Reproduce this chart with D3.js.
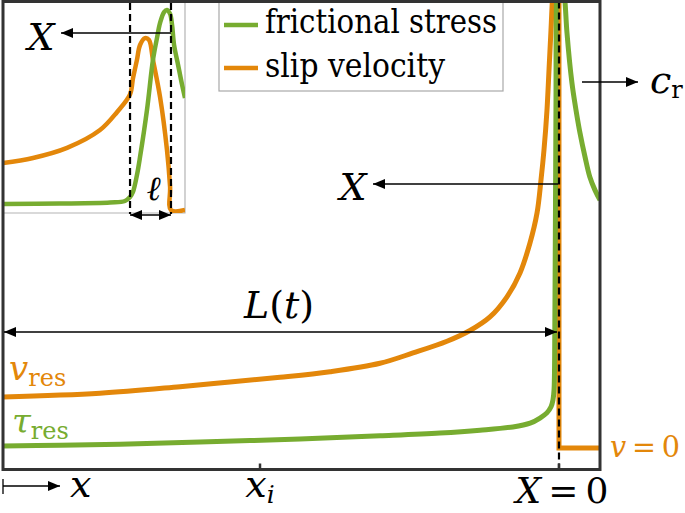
<!DOCTYPE html>
<html><head><meta charset="utf-8">
<script src="https://cdn.jsdelivr.net/npm/d3@7"></script>
<style>
body{margin:0;background:#fff}
svg{display:block}
svg text{font-family:"DejaVu Serif","Liberation Serif",serif !important}
</style>
</head><body>
<svg id="c" width="685" height="513"></svg>
<script>
// ================= DATA =================
const seriesNames  = ["frictional stress", "slip velocity"];
const seriesColors = ["#77AC30", "#E3870A"];

// Main panel: position normalised (0 = left edge, 1 = right edge), values normalised
const stressPos = [0,0.0955,0.196,0.33,0.4975,0.6315,0.732,0.799,0.854,0.883,0.8995,0.911,0.918,0.9213,0.923,0.924,0.9246,0.9255,0.9263,0.9271,0.9296,0.9363,0.9414,0.9447,0.953,0.9598,0.9665,0.9749,0.983,0.9916,1];
const stressVal = [0.050,0.052,0.054,0.059,0.065,0.072,0.078,0.084,0.091,0.099,0.110,0.121,0.134,0.149,0.170,0.234,0.362,0.576,0.79,0.999,1.067,1.067,0.999,0.933,0.826,0.768,0.719,0.668,0.625,0.597,0.576];

const velPos = [0,0.1625,0.2965,0.3802,0.464,0.5477,0.6315,0.6868,0.7437,0.7822,0.8157,0.8442,0.866,0.8827,0.8945,0.9012,0.9062,0.9112,0.9146,0.9179,0.9213,0.9263,0.9313,0.9313,1];
const velVal = [0.155,0.163,0.177,0.187,0.197,0.209,0.227,0.249,0.274,0.297,0.326,0.369,0.420,0.484,0.548,0.619,0.683,0.768,0.854,0.939,1.025,1.089,1.089,0.046,0.046];

// Inset (zoom on the tip region)
const insetStressPos = [0,0.313,0.588,0.670,0.698,0.714,0.736,0.753,0.791,0.824,0.846,0.863,0.885,0.901,0.918,0.929,0.940,0.962,0.984,1];
const insetStressVal = [0.043,0.045,0.05,0.057,0.076,0.1,0.181,0.267,0.490,0.729,0.833,0.905,0.957,0.967,0.948,0.895,0.8,0.705,0.610,0.548];
const insetVelPos = [0,0.165,0.352,0.533,0.626,0.698,0.714,0.736,0.753,0.780,0.802,0.824,0.863,0.901,0.918,0.923,1];
const insetVelVal = [0.238,0.262,0.310,0.395,0.480,0.565,0.640,0.729,0.8,0.833,0.824,0.729,0.552,0.3,0.124,0.014,0.014];
const insetMarks = [0.698, 0.923];      // process-zone limits (ℓ)

const frontPos = 0.9313;                // X = 0
const tickPos = [0.4305, 0.9313];

// ================= DRAW =================
const FONT = "'DejaVu Serif','Liberation Serif',serif";
const svg = d3.select("#c");
const frame = {x0:3, x1:600, y0:1.5, y1:469.5};
const x = d3.scaleLinear([0,1],[frame.x0, frame.x1]);
const y = d3.scaleLinear([0,1],[frame.y1, frame.y0]);
const inset = {x0:3, x1:185, y0:3, y1:213};
const xi = d3.scaleLinear([0,1],[inset.x0, inset.x1]);
const yi = d3.scaleLinear([0,1],[inset.y1, inset.y0]);

const defs = svg.append("defs");
defs.append("marker").attr("id","ah").attr("viewBox","0 0 12 10")
  .attr("markerUnits","userSpaceOnUse").attr("markerWidth",12).attr("markerHeight",10)
  .attr("refX",12).attr("refY",5).attr("orient","auto-start-reverse")
  .append("path").attr("d","M0,0L12,5L0,10Z").attr("fill","#000");
defs.append("clipPath").attr("id","clipMain").append("rect")
  .attr("x",frame.x0).attr("y",frame.y0).attr("width",frame.x1-frame.x0).attr("height",frame.y1-frame.y0);
defs.append("clipPath").attr("id","clipInset").append("rect")
  .attr("x",inset.x0).attr("y",inset.y0-2).attr("width",inset.x1-inset.x0).attr("height",inset.y1-inset.y0+2);

const smooth = d3.curveCatmullRom.alpha(0.5);
const zip = (a,b)=>a.map((v,i)=>[v,b[i]]);
function splitSeries(pos, val){
  const pts = zip(pos,val);
  let k = pts.findIndex((p,i)=>i>0 && p[0]===pts[i-1][0]);
  if (k<0) return [pts, []];
  return [pts.slice(0,k), pts.slice(k-1)];
}
function drawSeries(g, pos, val, xs, ys, color, w){
  const [a,b] = splitSeries(pos,val);
  const ls = d3.line().x(d=>xs(d[0])).y(d=>ys(d[1])).curve(smooth);
  const ll = d3.line().x(d=>xs(d[0])).y(d=>ys(d[1]));
  g.append("path").attr("d",ls(a)).attr("fill","none").attr("stroke",color).attr("stroke-width",w).attr("stroke-linejoin","round");
  if (b.length) g.append("path").attr("d",ll(b)).attr("fill","none").attr("stroke",color).attr("stroke-width",w).attr("stroke-linejoin","miter");
}
function txt(g){ return g.append("text").style("font-family",FONT); }

const gMain = svg.append("g").attr("clip-path","url(#clipMain)");
drawSeries(gMain, velPos, velVal, x, y, seriesColors[1], 5);
drawSeries(gMain, stressPos, stressVal, x, y, seriesColors[0], 5);

svg.append("line").attr("x1",x(frontPos)).attr("x2",x(frontPos)).attr("y1",frame.y0).attr("y2",frame.y1)
  .attr("stroke","#000").attr("stroke-width",2.2).attr("stroke-dasharray","7,4");

// inset
const gIn = svg.append("g");
gIn.append("path").attr("d",`M${inset.x1},${inset.y0-2}V${inset.y1}H${inset.x0}`)
  .attr("fill","none").attr("stroke","#b4b4b4").attr("stroke-width",1.2);
const gInC = gIn.append("g").attr("clip-path","url(#clipInset)");
drawSeries(gInC, insetVelPos, insetVelVal, xi, yi, seriesColors[1], 4.5);
drawSeries(gInC, insetStressPos, insetStressVal, xi, yi, seriesColors[0], 4.5);
insetMarks.forEach(m=>{
  gIn.append("line").attr("x1",xi(m)).attr("x2",xi(m)).attr("y1",inset.y0).attr("y2",inset.y1+1)
    .attr("stroke","#000").attr("stroke-width",2.2).attr("stroke-dasharray","7,4");
});
gIn.append("line").attr("x1",xi(insetMarks[0])).attr("x2",xi(insetMarks[1])).attr("y1",215).attr("y2",215)
  .attr("stroke","#000").attr("stroke-width",1.3).attr("marker-start","url(#ah)").attr("marker-end","url(#ah)");
txt(gIn).attr("x",(xi(insetMarks[0])+xi(insetMarks[1]))/2+3).attr("y",200)
  .attr("text-anchor","middle").attr("font-size",34).attr("font-style","italic").text("ℓ");
gIn.append("line").attr("x1",xi(insetMarks[1])).attr("x2",61).attr("y1",33).attr("y2",33)
  .attr("stroke","#000").attr("stroke-width",1.3).attr("marker-end","url(#ah)");
txt(gIn).attr("x",41).attr("y",50).attr("text-anchor","middle")
  .attr("font-size",38).attr("font-style","italic").text("X");

// legend
const lg = svg.append("g");
lg.append("rect").attr("x",219).attr("y",-2).attr("width",284).attr("height",93)
  .attr("fill","#fff").attr("stroke","#a8a8a8").attr("stroke-width",1.2);
seriesNames.forEach((n,i)=>{
  const yy = [25,68][i];
  lg.append("line").attr("x1",224).attr("x2",258).attr("y1",yy).attr("y2",yy)
    .attr("stroke",seriesColors[i]).attr("stroke-width",4.5);
  txt(lg).attr("x",265).attr("y",[33,77][i]).attr("font-size",33)
    .attr("textLength",[232,180][i]).attr("lengthAdjust","spacingAndGlyphs").text(n);
});

svg.append("rect").attr("x",frame.x0).attr("y",frame.y0).attr("width",frame.x1-frame.x0).attr("height",frame.y1-frame.y0)
  .attr("fill","none").attr("stroke","#333").attr("stroke-width",3);

tickPos.forEach(t=>{
  svg.append("line").attr("x1",x(t)).attr("x2",x(t)).attr("y1",frame.y1-6).attr("y2",frame.y1)
    .attr("stroke","#333").attr("stroke-width",2.5);
});
const tl0 = txt(svg).attr("x",x(tickPos[0])).attr("y",497).attr("text-anchor","middle").attr("font-size",38);
tl0.append("tspan").attr("font-style","italic").text("x");
tl0.append("tspan").attr("font-style","italic").attr("font-size",25).attr("dy",6).text("i");
const tl1 = txt(svg).attr("x",x(tickPos[1])+3).attr("y",503).attr("text-anchor","middle").attr("font-size",36);
tl1.append("tspan").attr("font-style","italic").text("X");
tl1.append("tspan").text("\u2009=\u20090");

svg.append("line").attr("x1",x(frontPos)-1).attr("x2",373).attr("y1",184).attr("y2",184)
  .attr("stroke","#000").attr("stroke-width",1.3).attr("marker-end","url(#ah)");
txt(svg).attr("x",353).attr("y",200).attr("text-anchor","middle")
  .attr("font-size",38).attr("font-style","italic").text("X");

svg.append("line").attr("x1",frame.x0+1).attr("x2",x(frontPos)-2).attr("y1",332).attr("y2",332)
  .attr("stroke","#000").attr("stroke-width",1.3).attr("marker-start","url(#ah)").attr("marker-end","url(#ah)");
const Lt = txt(svg).attr("x",279).attr("y",318).attr("text-anchor","middle").attr("font-size",38);
Lt.append("tspan").attr("font-style","italic").text("L");
Lt.append("tspan").text("(");
Lt.append("tspan").attr("font-style","italic").text("t");
Lt.append("tspan").text(")");

svg.append("line").attr("x1",582).attr("x2",638).attr("y1",82).attr("y2",82)
  .attr("stroke","#000").attr("stroke-width",1.3).attr("marker-end","url(#ah)");
const cr = txt(svg).attr("x",650).attr("y",93).attr("font-size",38);
cr.append("tspan").attr("font-style","italic").text("c");
cr.append("tspan").attr("font-size",24).attr("dy",5).text("r");

const vr = txt(svg).attr("x",9).attr("y",380).attr("font-size",34).attr("fill",seriesColors[1]);
vr.append("tspan").attr("font-style","italic").text("v");
vr.append("tspan").attr("font-size",24).attr("dy",6).text("res");
const tr = txt(svg).attr("x",12).attr("y",433).attr("font-size",34).attr("fill",seriesColors[0]);
tr.append("tspan").attr("font-style","italic").text("τ");
tr.append("tspan").attr("font-size",24).attr("dy",6).text("res");

const v0 = txt(svg).attr("x",610).attr("y",457).attr("font-size",29).attr("fill",seriesColors[1])
  .attr("textLength",70).attr("lengthAdjust","spacingAndGlyphs");
v0.append("tspan").attr("font-style","italic").text("v");
v0.append("tspan").text("\u2009=\u20090");

svg.append("line").attr("x1",3).attr("x2",3).attr("y1",479).attr("y2",494).attr("stroke","#000").attr("stroke-width",1.3);
svg.append("line").attr("x1",3).attr("x2",60).attr("y1",486).attr("y2",486)
  .attr("stroke","#000").attr("stroke-width",1.3).attr("marker-end","url(#ah)");
txt(svg).attr("x",70).attr("y",497).attr("font-size",38).attr("font-style","italic").text("x");
</script>
</body></html>
